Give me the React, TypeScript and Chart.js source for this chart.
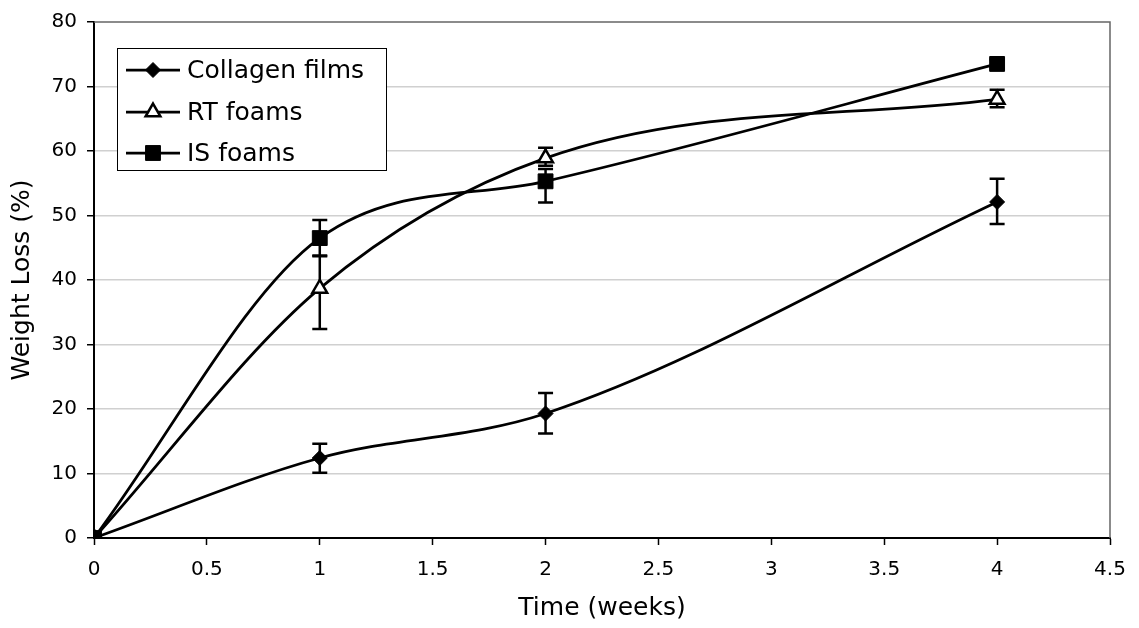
import React, { useEffect, useRef } from "react";
import { Chart, registerables } from "chart.js";
Chart.register(...registerables);

const weeks = [0, 1, 2, 4];
const seriesNames = ["Collagen films", "RT foams", "IS foams"];
const collagen = [0, 12.4, 19.3, 52.1];
const collagenLow = [0, 10.1, 16.2, 48.7];
const collagenHigh = [0, 14.6, 22.5, 55.7];
const rtFoams = [0, 38.7, 58.9, 68.0];
const rtLow = [0, 32.4, 57.7, 66.8];
const rtHigh = [0, 43.7, 60.5, 69.5];
const isFoams = [0, 46.5, 55.3, 73.5];
const isLow = [0, 43.8, 52.0, 72.8];
const isHigh = [0, 49.3, 57.2, 74.2];
const xTicks = [0, 0.5, 1, 1.5, 2, 2.5, 3, 3.5, 4, 4.5];
const yTicks = [0, 10, 20, 30, 40, 50, 60, 70, 80];

const FONT = "'DejaVu Sans', Verdana, sans-serif";

function drawMarker(ctx: CanvasRenderingContext2D, style: string, x: number, y: number, r: number) {
  ctx.beginPath();
  if (style === "rectRot") {
    ctx.moveTo(x, y - r);
    ctx.lineTo(x + r, y);
    ctx.lineTo(x, y + r);
    ctx.lineTo(x - r, y);
  } else if (style === "rect") {
    const s = Math.SQRT1_2 * r;
    ctx.rect(x - s, y - s, 2 * s, 2 * s);
  } else if (style === "triangle") {
    ctx.moveTo(x, y - r);
    ctx.lineTo(x + r * Math.sin(Math.PI / 3), y + r * 0.5);
    ctx.lineTo(x - r * Math.sin(Math.PI / 3), y + r * 0.5);
  }
  ctx.closePath();
  ctx.fill();
  ctx.stroke();
}

const errorBars: any = {
  id: "errorBars",
  beforeDatasetsDraw(chart: any) {
    const { ctx, chartArea, scales } = chart;
    ctx.save();
    ctx.strokeStyle = "#666";
    ctx.lineWidth = 1.5;
    ctx.beginPath();
    ctx.moveTo(chartArea.left, chartArea.top);
    ctx.lineTo(chartArea.right, chartArea.top);
    ctx.lineTo(chartArea.right, chartArea.bottom);
    ctx.stroke();
    ctx.restore();

    ctx.save();
    ctx.strokeStyle = "#000";
    ctx.lineWidth = 2.5;
    chart.data.datasets.forEach((ds: any) => {
      const lows = ds.errLow as number[];
      const highs = ds.errHigh as number[];
      ds.data.forEach((p: any, i: number) => {
        const x = scales.x.getPixelForValue(p.x);
        const y1 = scales.y.getPixelForValue(lows[i]);
        const y2 = scales.y.getPixelForValue(highs[i]);
        if (Math.abs(y1 - y2) < 0.5) return;
        ctx.beginPath();
        ctx.moveTo(x, y1);
        ctx.lineTo(x, y2);
        ctx.moveTo(x - 7.5, y1);
        ctx.lineTo(x + 7.5, y1);
        ctx.moveTo(x - 7.5, y2);
        ctx.lineTo(x + 7.5, y2);
        ctx.stroke();
      });
    });
    ctx.restore();
  },
  afterDraw(chart: any) {
    const { ctx } = chart;
    const bx = 117, by = 48, bw = 269, bh = 122;
    ctx.save();
    ctx.fillStyle = "#fff";
    ctx.fillRect(bx, by, bw, bh);
    ctx.strokeStyle = "#000";
    ctx.lineWidth = 1;
    ctx.strokeRect(bx + 0.5, by + 0.5, bw, bh);
    const rows = [70, 112, 153];
    chart.data.datasets.forEach((ds: any, i: number) => {
      const y = rows[i];
      ctx.strokeStyle = "#000";
      ctx.lineWidth = 2.75;
      ctx.beginPath();
      ctx.moveTo(126, y);
      ctx.lineTo(180, y);
      ctx.stroke();
      ctx.fillStyle = ds.pointBackgroundColor;
      ctx.strokeStyle = "#000";
      ctx.lineWidth = ds.pointBorderWidth;
      drawMarker(ctx, ds.pointStyle, 153, y, ds.pointRadius);
      ctx.fillStyle = "#000";
      ctx.font = `25px ${FONT}`;
      ctx.textBaseline = "middle";
      ctx.textAlign = "left";
      ctx.fillText(ds.label, 187, y + 1);
    });
    ctx.restore();
  },
};

function pts(vals: number[]) {
  return weeks.map((w, i) => ({ x: w, y: vals[i] }));
}

export default function App() {
  const ref = useRef<HTMLCanvasElement | null>(null);
  useEffect(() => {
    if (!ref.current) return;
    const common = {
      borderColor: "#000",
      borderWidth: 2.75,
      pointBorderColor: "#000",
      cubicInterpolationMode: "monotone",
      fill: false,
      showLine: true,
    };
    const chart = new Chart(ref.current, {
      type: "scatter",
      data: {
        datasets: [
          {
            ...common,
            label: seriesNames[0],
            data: pts(collagen),
            pointStyle: "rectRot",
            pointRadius: 7.5,
            pointBackgroundColor: "#000",
            pointBorderWidth: 1,
            errLow: collagenLow,
            errHigh: collagenHigh,
          } as any,
          {
            ...common,
            label: seriesNames[1],
            data: pts(rtFoams),
            pointStyle: "triangle",
            pointRadius: 8.5,
            pointBackgroundColor: "#fff",
            pointBorderWidth: 2.5,
            errLow: rtLow,
            errHigh: rtHigh,
          } as any,
          {
            ...common,
            label: seriesNames[2],
            data: pts(isFoams),
            pointStyle: "rect",
            pointRadius: 10.5,
            pointBackgroundColor: "#000",
            pointBorderWidth: 1,
            errLow: isLow,
            errHigh: isHigh,
          } as any,
        ],
      },
      options: {
        animation: false,
        responsive: true,
        maintainAspectRatio: false,
        layout: { padding: { left: 0, top: 18, right: 29, bottom: 0 } },
        plugins: { legend: { display: false }, tooltip: { enabled: false } },
        scales: {
          x: {
            type: "linear",
            min: 0,
            max: 4.5,
            afterBuildTicks: (axis: any) => {
              axis.ticks = xTicks.map((v) => ({ value: v }));
            },
            afterFit: (axis: any) => {
              axis.height = 90;
            },
            grid: {
              drawOnChartArea: false,
              drawTicks: true,
              tickLength: 7,
              tickColor: "#000",
              tickWidth: 1.5,
            },
            border: { color: "#000", width: 2 },
            ticks: {
              color: "#000",
              font: { family: FONT, size: 20 },
              padding: 13,
              maxRotation: 0,
              autoSkip: false,
              callback: (v: any) => String(v),
            },
            title: {
              display: true,
              text: "Time (weeks)",
              color: "#000",
              font: { family: FONT, size: 25 },
              padding: { top: 0, bottom: 5 },
            },
          },
          y: {
            type: "linear",
            min: 0,
            max: 80,
            afterBuildTicks: (axis: any) => {
              axis.ticks = yTicks.map((v) => ({ value: v }));
            },
            afterFit: (axis: any) => {
              axis.width = 94;
            },
            grid: {
              color: (c: any) => (c.tick && (c.tick.value === 0 || c.tick.value === 80) ? "rgba(0,0,0,0)" : "#d0d0d0"),
              lineWidth: 1.5,
              drawTicks: true,
              tickLength: 7,
              tickColor: "#000",
              tickWidth: 1.5,
            },
            border: { color: "#000", width: 2 },
            ticks: {
              color: "#000",
              font: { family: FONT, size: 20 },
              padding: 10,
              callback: (v: any) => String(v),
            },
            title: {
              display: true,
              text: "Weight Loss (%)",
              color: "#000",
              font: { family: FONT, size: 25 },
              padding: { top: 7, bottom: 0 },
            },
          },
        },
      },
      plugins: [errorBars],
    } as any);
    return () => chart.destroy();
  }, []);
  return (
    <div style={{ position: "absolute", left: 0, top: 0, width: 1139, height: 628, background: "#fff" }}>
      <canvas ref={ref} />
    </div>
  );
}
